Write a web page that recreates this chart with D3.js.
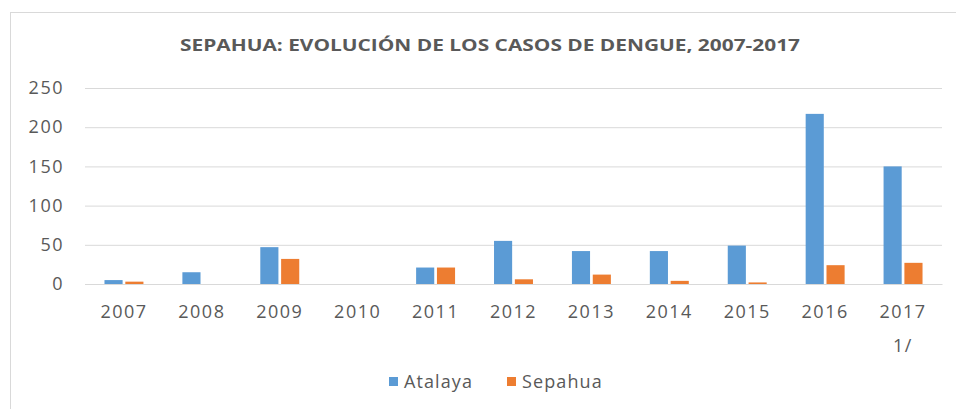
<!DOCTYPE html>
<html>
<head>
<meta charset="utf-8">
<script src="https://cdn.jsdelivr.net/npm/d3@7"></script>
<style>
  body { margin: 0; background: #fff; }
  text { font-family: "Open Sans", "Noto Sans", sans-serif; fill: #595959; }
</style>
</head>
<body>
<div class="chart"></div>
<script>
// Data
const years = ['2007', '2008', '2009', '2010', '2011', '2012', '2013', '2014', '2015', '2016', '2017'];
const yearNotes = ['', '', '', '', '', '', '', '', '', '', '1/'];
const seriesNames = ['Atalaya', 'Sepahua'];
const atalaya = [5, 15, 47, 0, 21, 55, 42, 42, 49, 217, 150];
const sepahua = [3, 0, 32, 0, 21, 6, 12, 4, 2, 24, 27];
const yTicks = [0, 50, 100, 150, 200, 250];
const colors = ['#5B9BD5', '#ED7D31'];

const width = 956, height = 409;
const plot = { left: 85, right: 942, top: 88, bottom: 284 };

const svg = d3.select('.chart')
    .append('svg')
    .attr('width', width)
    .attr('height', height);

// Chart frame
svg.append('rect')
    .attr('x', 10.5).attr('y', 12.5)
    .attr('width', width).attr('height', height)
    .attr('fill', 'none')
    .attr('stroke', '#d9d9d9');

// Title
svg.append('text')
    .attr('x', 490).attr('y', 51)
    .attr('text-anchor', 'middle')
    .attr('font-size', 16)
    .attr('font-weight', 'bold')
    .attr('textLength', 620)
    .attr('lengthAdjust', 'spacingAndGlyphs')
    .text('SEPAHUA: EVOLUCIÓN DE LOS CASOS DE DENGUE, 2007-2017');

// Scales
const x0 = d3.scaleBand()
    .domain(years)
    .range([plot.left, plot.right])
    .paddingInner(0.5)
    .paddingOuter(0.25);

const x1 = d3.scaleBand()
    .domain(seriesNames)
    .range([0, x0.bandwidth()])
    .paddingInner(0.13);

const y = d3.scaleLinear()
    .domain([0, 250])
    .range([plot.bottom, plot.top]);

// Gridlines + y labels
const yAxis = d3.axisLeft(y)
    .tickValues(yTicks)
    .tickSize(-(plot.right - plot.left))
    .tickPadding(21);

const yG = svg.append('g')
    .attr('transform', `translate(${plot.left},0)`)
    .call(yAxis);
yG.select('.domain').remove();
yG.selectAll('line').attr('stroke', '#d9d9d9');
yG.selectAll('text')
    .attr('font-size', 18)
    .attr('letter-spacing', 1.5)
    .attr('fill', '#595959')
    .attr('font-family', '"Open Sans", sans-serif');

// Bars
const rows = years.map((yr, i) => ({ year: yr, values: [atalaya[i], sepahua[i]] }));

const groups = svg.selectAll('.grp')
    .data(rows)
    .enter()
    .append('g')
    .attr('class', 'grp')
    .attr('transform', d => `translate(${x0(d.year)},0)`);

groups.selectAll('rect')
    .data(d => d.values.map((v, k) => ({ name: seriesNames[k], value: v, k })))
    .enter()
    .append('rect')
    .attr('x', d => x1(d.name))
    .attr('y', d => y(d.value))
    .attr('width', x1.bandwidth())
    .attr('height', d => y(0) - y(d.value))
    .attr('fill', d => colors[d.k]);

// X axis
const xAxis = d3.axisBottom(x0)
    .tickSize(0)
    .tickPadding(21);

const xG = svg.append('g')
    .attr('transform', `translate(0,${plot.bottom})`)
    .call(xAxis);
xG.select('.domain').attr('stroke', '#d9d9d9');
xG.selectAll('text')
    .attr('font-size', 18)
    .attr('letter-spacing', 1.5)
    .attr('fill', '#595959')
    .attr('font-family', '"Open Sans", sans-serif');

svg.selectAll('.note')
    .data(years.filter((d, i) => yearNotes[i]))
    .enter()
    .append('text')
    .attr('class', 'note')
    .attr('x', d => x0(d) + x0.bandwidth() / 2)
    .attr('y', 352)
    .attr('text-anchor', 'middle')
    .attr('font-size', 18)
    .attr('letter-spacing', 1.5)
    .text(d => yearNotes[years.indexOf(d)]);

// Legend
const legend = svg.append('g').attr('transform', 'translate(389,384)');
const legendX = [0, 118];
seriesNames.forEach((name, i) => {
    const g = legend.append('g').attr('transform', `translate(${legendX[i]},0)`);
    g.append('rect')
        .attr('x', 0).attr('y', -7)
        .attr('width', 9).attr('height', 9)
        .attr('fill', colors[i]);
    g.append('text')
        .attr('x', 15).attr('y', 4)
        .attr('font-size', 18)
        .attr('letter-spacing', 1.1)
        .text(name);
});
</script>
</body>
</html>
